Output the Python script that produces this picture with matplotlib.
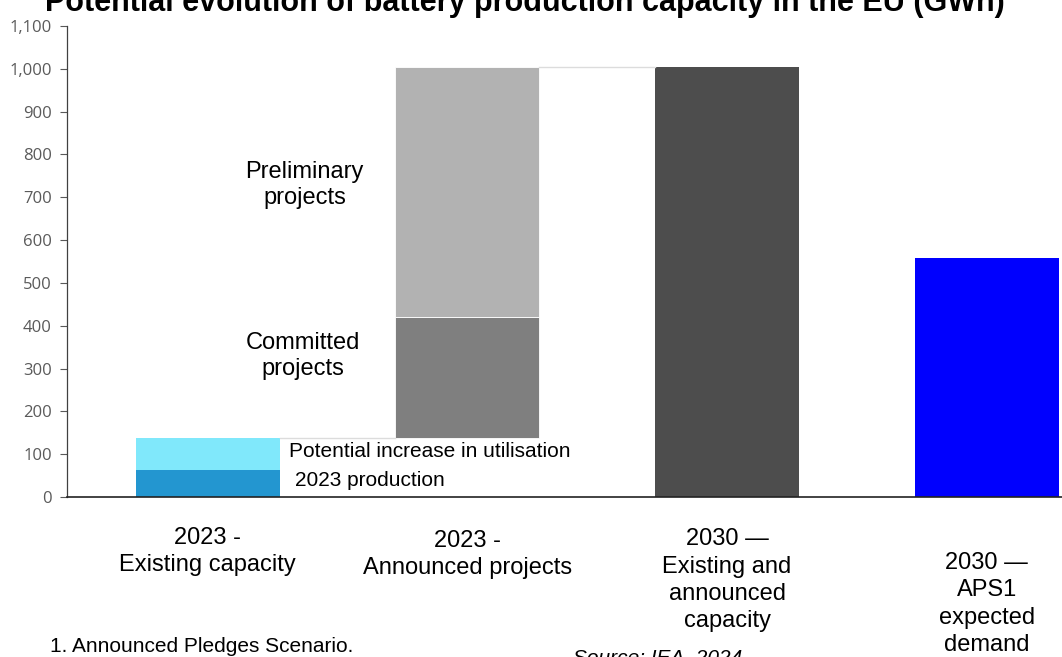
import matplotlib.pyplot as plt
import numpy as np

# data (GWh)
categories = ["2023 -\nExisting capacity", "2023 -\nAnnounced projects",
              "2030 \u2014\nExisting and\nannounced\ncapacity",
              "2030 \u2014\nAPS1\nexpected\ndemand"]
production_2023 = 62
utilisation_increase = 76
committed = 282
preliminary = 585
existing_announced_2030 = 1005
aps_demand_2030 = 558

plt.rcParams['font.family'] = ['Liberation Sans', 'DejaVu Sans']

fig = plt.figure(figsize=(10.62, 6.57), dpi=100)
ax = fig.add_axes([67/1062, 1-497/657, 1-67/1062, (497-26)/657])

x = np.arange(len(categories))
w = 0.554
existing_total = production_2023 + utilisation_increase

# bar 1 : existing capacity
ax.bar(x[0], production_2023, w, color='#2396d0', linewidth=0)
ax.bar(x[0], utilisation_increase, w, bottom=production_2023, color='#80e8fb', linewidth=0)
# bar 2 : announced projects (floating on top of existing)
ax.bar(x[1], committed, w, bottom=existing_total, color='#7f7f7f', edgecolor='white', linewidth=0.6)
ax.bar(x[1], preliminary, w, bottom=existing_total + committed, color='#b2b2b2', edgecolor='white', linewidth=0.6)
# bar 3 and 4
ax.bar(x[2], existing_announced_2030, w, color='#4d4d4d', linewidth=0)
ax.bar(x[3], aps_demand_2030, w, color='#0000fe', linewidth=0)

# connector lines
ax.plot([x[0] + w/2, x[1] - w/2], [existing_total, existing_total], color='#dcdcdc', lw=1)
top2 = existing_total + committed + preliminary
ax.plot([x[1] + w/2, x[2] - w/2], [top2, existing_announced_2030], color='#dcdcdc', lw=1)

ax.set_xlim(-0.542, 3.29)
ax.set_ylim(0, 1100)
ax.set_yticks(np.arange(0, 1101, 100))
ax.set_yticklabels([f"{v:,}" for v in range(0, 1101, 100)], fontfamily='Open Sans',
                   fontsize=12, color='#5a5a5a')
ax.tick_params(axis='y', direction='out', length=5, color='#595959', width=0.8, pad=6)
ax.set_xticks([])
for s in ['top', 'right']:
    ax.spines[s].set_visible(False)
ax.spines['left'].set_color('#404040')
ax.spines['left'].set_linewidth(0.9)
ax.spines['bottom'].set_color('#222222')
ax.spines['bottom'].set_linewidth(1.2)

# in-chart labels
ax.text(0.373, 729, "Preliminary\nprojects", ha='center', va='center', fontsize=17, linespacing=1.2)
ax.text(0.368, 329, "Committed\nprojects", ha='center', va='center', fontsize=17, linespacing=1.2)
ax.text(0.3115, 106, "Potential increase in utilisation", ha='left', va='center', fontsize=15)
ax.text(0.338, 38, "2023 production", ha='left', va='center', fontsize=15)

# category labels below the axis
label_y = [-128, -135, -194, -250]
for xi, lab, ly in zip(x, categories, label_y):
    ax.text(xi, ly, lab, ha='center', va='center', fontsize=17, linespacing=1.3, clip_on=False)

fig.text(45/1062, 1-11/657, "Potential evolution of battery production capacity in the EU (GWh)",
         fontsize=22, fontweight='bold', va='baseline', ha='left')
fig.text(50/1062, 1-652/657, "1. Announced Pledges Scenario.", fontsize=15, va='baseline')
fig.text(573/1062, 1-663/657, "Source: IEA, 2024", fontsize=15, va='baseline', style='italic')

fig.savefig('out.png', dpi=100)
